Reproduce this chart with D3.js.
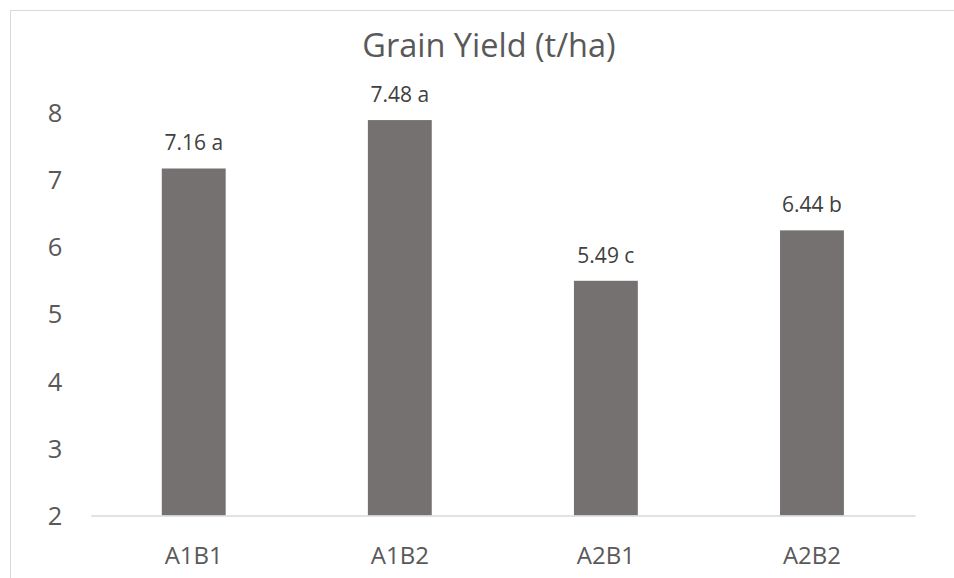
<!DOCTYPE html>
<html>
<head>
<meta charset="utf-8">
<script src="https://cdn.jsdelivr.net/npm/d3@7"></script>
<style>
html,body{margin:0;padding:0;background:#fff;}
svg{display:block;font-family:"Open Sans","Noto Sans",sans-serif;}
</style>
</head>
<body>
<svg id="chart" width="954" height="578"></svg>
<script>
const categories = ["A1B1", "A1B2", "A2B1", "A2B2"];
const values = [7.16, 7.88, 5.49, 6.24];
const labels = ["7.16 a", "7.48 a", "5.49 c", "6.44 b"];
const yTicks = [2, 3, 4, 5, 6, 7, 8];
const title = "Grain Yield (t/ha)";

const svg = d3.select("#chart");
const W = 954, H = 578;
const textColor = "#595959";

// chart border (extends beyond the right/bottom of the view)
svg.append("rect")
  .attr("x", 10.5).attr("y", 10.5)
  .attr("width", W + 20).attr("height", H + 20)
  .attr("fill", "#fff").attr("stroke", "#d9d9d9").attr("stroke-width", 1);

const x = d3.scaleBand().domain(categories).range([90.7, 915]).paddingInner(0.69).paddingOuter(0.345);
const y = d3.scaleLinear().domain([2, 8]).range([515.5, 112]);

svg.append("text")
  .attr("x", 489).attr("y", 57)
  .attr("text-anchor", "middle")
  .attr("font-size", 32.5)
  .attr("fill", textColor)
  .text(title);

// y axis labels
const yAxis = svg.append("g").attr("transform", "translate(66,0)")
  .call(d3.axisLeft(y).tickValues(yTicks).tickSize(0).tickPadding(0).tickFormat(d3.format("d")));
yAxis.select(".domain").remove();
yAxis.selectAll("text").attr("font-size", 25.5).attr("fill", textColor)
  .attr("font-family", "'Open Sans','Noto Sans',sans-serif")
  .attr("text-anchor", "middle").attr("x", -11).attr("dy", "0.36em");

// bars
svg.append("g").selectAll("rect").data(categories).join("rect")
  .attr("x", d => x(d))
  .attr("width", x.bandwidth())
  .attr("y", (d, i) => y(values[i]))
  .attr("height", (d, i) => y(2) - y(values[i]))
  .attr("fill", "#767171");

// x axis
const xAxis = svg.append("g").attr("transform", `translate(0,${y(2)})`)
  .call(d3.axisBottom(x).tickSize(0).tickPadding(0));
xAxis.select(".domain").attr("stroke", "#d9d9d9").attr("stroke-width", 1.3);
xAxis.selectAll("text").attr("font-size", 24).attr("fill", textColor)
  .attr("font-family", "'Open Sans','Noto Sans',sans-serif")
  .attr("dy", 0).attr("y", 48);

// data labels
svg.append("g").selectAll("text").data(categories).join("text")
  .attr("x", d => x(d) + x.bandwidth() / 2)
  .attr("y", (d, i) => y(values[i]) - 18)
  .attr("text-anchor", "middle")
  .attr("font-size", 21)
  .attr("fill", "#404040")
  .text((d, i) => labels[i]);
</script>
</body>
</html>
